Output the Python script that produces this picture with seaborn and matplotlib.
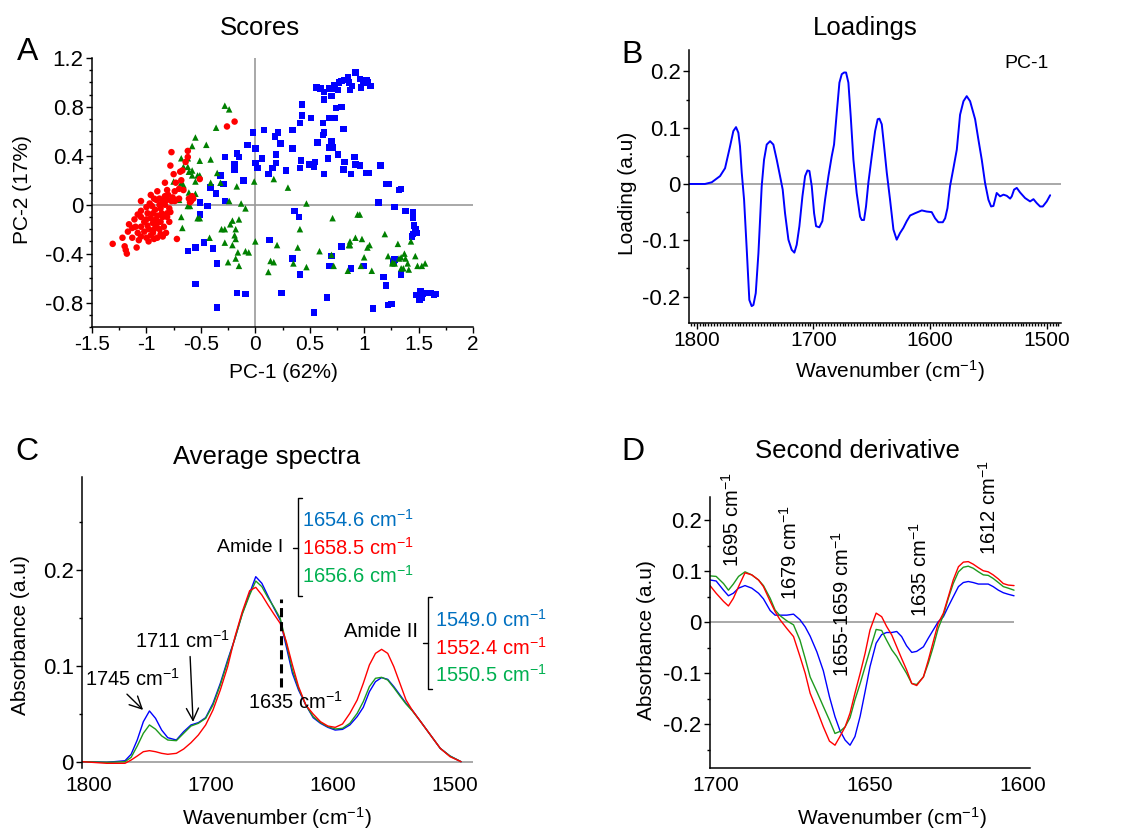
import numpy as np
import pandas as pd
import seaborn as sns
import matplotlib
matplotlib.use("Agg")
import matplotlib.pyplot as plt
from matplotlib.ticker import MultipleLocator, FuncFormatter

# ---------------- data ----------------
# A: PCA scores
blue_pc1 = [0.56, 0.63, 0.63, 0.68, 0.71, 0.70, 0.73, 0.76, 0.77, 0.79,
            0.82, 0.85, 0.86, 0.87, 0.89, 0.92, 0.96, 0.97, 0.99, 1.02,
            1.03, 1.06, 0.60, 0.74, 0.79, 0.73, 0.68, 0.62, 0.43, 0.43,
            0.51, 0.41, 0.34, 0.81, 0.91, 0.76, 0.63, 0.62, 0.57, 0.70,
            0.68, 0.71, 0.82, 0.81, 0.88, 0.92, 0.96, 1.02, 1.04, 1.15,
            1.20, 1.23, 1.32, 1.34, 1.13, 1.28, 1.38, 1.45, 1.45, 1.46,
            1.47, 1.48, 1.44, 1.45,
            -0.02, 0.08, 0.18, 0.21, 0.23, 0.34, -0.07, 0.00, 0.06, 0.19,
            0.19, 0.16, 0.12, 0.28, 0.42, 0.41, 0.50, 0.54, 0.55, 0.63,
            0.67, 0.00, 0.02, -0.28, -0.32, -0.17, -0.15, -0.19, -0.19, -0.11,
            -0.41, -0.29, -0.28, -0.36, -0.51, -0.44, -0.51, -0.47, -0.55, -0.62,
            -0.39, -0.35, 0.36, 0.40, 0.13, 0.79, 0.34, 0.70, 0.68, 1.00,
            0.88, 0.41, 1.18, 1.20, 1.34, 1.28, 1.27, 0.24, -0.17, -0.09,
            -0.35, -0.55, 0.54, 0.66, 1.08, 1.22, 1.25, 1.48, 1.52, 1.51,
            1.54, 1.57, 1.61, 1.64, 1.66, 1.53]
blue_pc2 = [0.96, 0.92, 0.86, 0.95, 0.95, 0.89, 0.98, 0.94, 1.00, 1.01,
            1.02, 1.04, 1.00, 0.94, 0.97, 1.08, 1.03, 0.96, 1.01, 1.02,
            1.00, 0.97, 0.95, 0.79, 0.80, 0.71, 0.71, 0.67, 0.82, 0.73,
            0.71, 0.67, 0.61, 0.62, 0.39, 0.41, 0.59, 0.57, 0.51, 0.52,
            0.47, 0.47, 0.35, 0.29, 0.25, 0.33, 0.32, 0.26, 0.26, 0.32,
            0.17, 0.17, 0.12, 0.13, 0.02, -0.02, -0.05, -0.06, -0.11, -0.17,
            -0.20, -0.23, -0.26, -0.24,
            0.59, 0.61, 0.56, 0.59, 0.50, 0.46, 0.49, 0.46, 0.38, 0.41,
            0.34, 0.30, 0.25, 0.28, 0.36, 0.30, 0.33, 0.31, 0.35, 0.25,
            0.38, 0.34, 0.30, 0.39, 0.24, 0.42, 0.39, 0.33, 0.29, 0.20,
            0.14, 0.17, 0.03, 0.09, 0.02, -0.01, -0.08, -0.31, -0.35, -0.38,
            -0.36, -0.48, -0.05, -0.10, -0.29, -0.34, -0.44, -0.42, -0.50, -0.50,
            -0.52, -0.57, -0.59, -0.66, -0.57, -0.45, -0.47, -0.72, -0.72, -0.73,
            -0.84, -0.65, -0.88, -0.76, -0.85, -0.82, -0.81, -0.74, -0.71, -0.78,
            -0.73, -0.72, -0.72, -0.74, -0.73, -0.76]
red_pc1 = [-0.19, -0.26, -0.51, -0.62, -0.77, -0.78, -0.69, -0.75, -0.83, -0.62,
           -0.64, -0.67, -0.73, -0.66, -0.61, -0.58, -0.59, -0.70, -0.81, -0.83,
           -0.85, -0.90, -0.91, -0.96, -0.97, -1.05, -0.88, -0.87, -0.92, -0.94,
           -0.99, -1.05, -1.08, -1.11, -1.13, -1.17, -1.16, -1.08, -1.05, -1.00,
           -0.94, -0.90, -0.87, -0.82, -0.84, -0.87, -0.91, -0.96, -1.02, -1.05,
           -0.98, -0.93, -0.88, -0.81, -0.79, -0.74, -0.73, -0.83, -0.79, -0.81,
           -0.72, -1.22, -1.31, -1.20, -1.18, -1.19, -1.09, -1.07, -0.98, -0.93,
           -0.85, -0.91, -0.99, -0.94, -0.77, -0.74, -0.81,
           -1.00, -0.95, -0.90, -0.85, -1.02, -0.96, -0.90, -0.86, -0.78, -0.80,
           -0.76, -0.70, -0.68, -1.10, -1.13, -0.93, -0.88, -1.00, -1.05, -0.60, -0.57]
red_pc2 = [0.68, 0.64, 0.21, 0.44, 0.43, 0.32, 0.27, 0.25, 0.18, 0.39,
           0.35, 0.28, 0.18, 0.12, 0.05, 0.07, 0.03, 0.05, 0.12, 0.07,
           0.03, 0.11, 0.04, 0.08, 0.01, 0.03, 0.00, -0.03, -0.04, -0.07,
           -0.07, -0.05, -0.08, -0.12, -0.19, -0.22, -0.16, -0.23, -0.26, -0.27,
           -0.23, -0.27, -0.24, -0.23, -0.18, -0.14, -0.12, -0.11, -0.14, -0.18,
           -0.20, -0.20, -0.20, -0.10, -0.14, 0.03, 0.04, 0.00, -0.03, -0.07,
           -0.28, -0.27, -0.32, -0.34, -0.40, -0.37, -0.35, -0.29, -0.30, -0.28,
           -0.26, -0.18, -0.17, -0.15, 0.03, 0.11, 0.04,
           -0.02, -0.01, -0.09, -0.10, -0.22, -0.25, -0.15, -0.07, -0.06, 0.08,
           0.06, 0.13, 0.20, -0.18, -0.27, 0.05, 0.05, -0.12, -0.10, 0.02, 0.05]
green_pc1 = [-0.28, -0.24, -0.36, -0.55, -0.58, -0.45, -0.41, -0.51, -0.62, -0.68,
             -0.62, -0.61, -0.58, -0.58, -0.53, -0.51, -0.66, -0.75, -0.68, -0.66,
             -0.55, -0.55, -0.61, -0.76, -0.70, -0.62, -0.60, -0.53, -0.51, -0.67,
             -0.68, -0.41, -0.35, -0.32, -0.24, -0.17, -0.13, -0.09, -0.01, 0.17,
             0.30, 0.47, 0.71, 0.94, 0.96, 0.41, 0.20, 0.00, -0.15, -0.18,
             -0.21, -0.23, -0.19, -0.18, -0.28, -0.31, -0.42, -0.28, -0.21, -0.16,
             -0.18, -0.09, -0.06, -0.25, -0.15, 0.14, 0.17, 0.12, 0.39, 0.59,
             0.70, 0.72, 0.35, 0.47, 0.86, 0.87, 0.92, 0.98, 1.03, 1.05,
             0.87, 1.00, 0.97, 1.07, 0.85, 1.19, 1.31, 1.22, 1.26, 1.28,
             1.32, 1.34, 1.37, 1.38, 1.40, 1.34, 1.41, 1.47, 1.49, 1.53,
             1.56, 1.43, 1.26, 1.36]
green_pc2 = [0.81, 0.78, 0.63, 0.55, 0.48, 0.49, 0.37, 0.36, 0.38, 0.38,
             0.31, 0.27, 0.28, 0.24, 0.24, 0.24, 0.31, 0.19, 0.18, 0.16,
             0.19, 0.09, 0.10, 0.05, 0.04, -0.01, -0.01, -0.11, -0.11, -0.19,
             -0.10, 0.18, 0.26, 0.18, 0.03, 0.15, 0.01, -0.03, 0.19, 0.21,
             0.14, 0.01, -0.11, -0.08, -0.08, -0.20, -0.33, -0.30, -0.12, -0.20,
             -0.13, -0.16, -0.25, -0.28, -0.20, -0.20, -0.27, -0.31, -0.33, -0.39,
             -0.44, -0.38, -0.39, -0.47, -0.50, -0.46, -0.47, -0.55, -0.35, -0.38,
             -0.41, -0.50, -0.48, -0.51, -0.33, -0.30, -0.27, -0.28, -0.35, -0.33,
             -0.33, -0.43, -0.50, -0.54, -0.54, -0.24, -0.32, -0.42, -0.48, -0.48,
             -0.44, -0.43, -0.40, -0.44, -0.48, -0.52, -0.53, -0.42, -0.50, -0.50,
             -0.48, -0.30, -0.47, -0.52]

# B: PC-1 loadings
load_wn = [1806.3, 1792.9, 1787.1, 1780.0, 1775.7, 1771.4, 1768.6, 1766.3, 1764.3, 1762.9,
           1761.4, 1759.4, 1757.1, 1754.9, 1752.9, 1751.4, 1749.4, 1747.1, 1744.3, 1742.3,
           1740.0, 1737.1, 1734.3, 1731.4, 1728.0, 1726.3, 1724.3, 1721.4, 1718.6, 1716.3,
           1714.3, 1712.0, 1709.4, 1707.1, 1705.1, 1703.4, 1701.4, 1699.4, 1697.7, 1694.9,
           1692.3, 1690.0, 1687.1, 1684.3, 1682.3, 1680.0, 1677.7, 1675.7, 1673.7, 1672.0,
           1670.0, 1668.0, 1665.7, 1662.9, 1660.0, 1658.6, 1656.6, 1654.9, 1652.9, 1650.0,
           1647.1, 1644.9, 1643.4, 1641.4, 1639.4, 1637.1, 1634.3, 1631.4, 1628.6, 1625.7,
           1622.9, 1620.0, 1617.1, 1612.9, 1607.1, 1602.9, 1598.6, 1595.7, 1592.9, 1589.1,
           1587.1, 1585.1, 1582.9, 1580.0, 1577.1, 1574.3, 1571.4, 1568.6, 1565.7, 1561.4,
           1558.6, 1555.7, 1552.9, 1550.0, 1547.7, 1545.7, 1542.9, 1540.0, 1537.1, 1534.3,
           1531.4, 1530.0, 1528.0, 1525.7, 1522.9, 1518.6, 1514.3, 1511.4, 1508.6, 1505.7,
           1503.4, 1500.0, 1497.1]
load_pc1 = [0, 0, 0.003, 0.014, 0.028, 0.067, 0.094, 0.101, 0.091, 0.067,
            0.020, -0.028, -0.117, -0.206, -0.217, -0.215, -0.194, -0.123, -0.004, 0.043,
            0.070, 0.076, 0.070, 0.043, 0.008, -0.010, -0.052, -0.099, -0.117, -0.122,
            -0.108, -0.075, -0.022, 0.014, 0.024, 0.023, -0.004, -0.052, -0.075, -0.077,
            -0.066, -0.028, 0.014, 0.049, 0.070, 0.126, 0.180, 0.195, 0.198, 0.198,
            0.180, 0.120, 0.043, -0.016, -0.058, -0.064, -0.064, -0.040, 0.002, 0.049,
            0.094, 0.115, 0.116, 0.106, 0.067, 0.020, -0.028, -0.081, -0.099, -0.087,
            -0.078, -0.066, -0.056, -0.052, -0.047, -0.049, -0.050, -0.061, -0.068, -0.068,
            -0.061, -0.043, -0.004, 0.028, 0.061, 0.123, 0.147, 0.156, 0.147, 0.115,
            0.079, 0.043, 0.002, -0.028, -0.040, -0.039, -0.016, -0.022, -0.019, -0.021,
            -0.026, -0.022, -0.010, -0.007, -0.015, -0.025, -0.031, -0.027, -0.034, -0.040,
            -0.040, -0.031, -0.020]

# C: average spectra
avg_wn = [1805, 1785, 1770, 1765, 1760, 1755, 1750, 1745, 1740, 1735,
          1728, 1722, 1716, 1710, 1704, 1698, 1692, 1686, 1680, 1674,
          1668, 1663, 1658, 1653, 1648, 1643, 1638, 1633, 1628, 1622,
          1616, 1610, 1604, 1598, 1592, 1586, 1580, 1575, 1570, 1565,
          1560, 1555, 1550, 1545, 1540, 1535, 1528, 1520, 1512, 1504, 1495]
avg_blue = [0, -0.0007, 0.001, 0.0077, 0.0226, 0.0417, 0.0529, 0.0452, 0.033, 0.025,
            0.0226, 0.0313, 0.0383, 0.0407, 0.0459, 0.0609, 0.0817, 0.1061, 0.1287, 0.1548,
            0.1757, 0.193, 0.1861, 0.1729, 0.16, 0.1478, 0.12, 0.0922, 0.0748, 0.0591,
            0.0459, 0.04, 0.0358, 0.033, 0.0337, 0.0383, 0.047, 0.0567, 0.073, 0.0835,
            0.0877, 0.0859, 0.0783, 0.0696, 0.0609, 0.0539, 0.0417, 0.0278, 0.0139, 0.0059, 0]
avg_red = [0, -0.0017, -0.0017, 0.0017, 0.0059, 0.0104, 0.0115, 0.0104, 0.0087, 0.0077,
           0.0087, 0.0132, 0.0198, 0.0278, 0.0383, 0.0539, 0.0748, 0.0991, 0.1304, 0.1565,
           0.1784, 0.1819, 0.1739, 0.1635, 0.1537, 0.1443, 0.1252, 0.1009, 0.0783, 0.0591,
           0.0497, 0.0417, 0.0372, 0.0358, 0.0393, 0.0504, 0.0643, 0.0817, 0.1009, 0.113,
           0.1172, 0.113, 0.0991, 0.0817, 0.0643, 0.0539, 0.0417, 0.0278, 0.0139, 0.0052, 0]
avg_green = [0, -0.0007, 0, 0.0045, 0.0163, 0.0296, 0.0383, 0.0339, 0.0269, 0.0226,
             0.0219, 0.0296, 0.0372, 0.04, 0.0452, 0.0591, 0.08, 0.1043, 0.1287, 0.1541,
             0.1739, 0.1885, 0.1826, 0.1711, 0.1610, 0.1496, 0.1235, 0.0957, 0.0765, 0.0591,
             0.047, 0.0407, 0.0365, 0.0341, 0.0348, 0.04, 0.0504, 0.0626, 0.0783, 0.087,
             0.088, 0.0852, 0.0772, 0.0685, 0.0602, 0.0532, 0.0417, 0.0278, 0.0139, 0.0059, 0]
amide1_labels = ["1654.6", "1658.5", "1656.6"]
amide2_labels = ["1549.0", "1552.4", "1550.5"]

# D: second derivative
d2_wn = [1702.0, 1700.0, 1697.6, 1696.0, 1694.4, 1692.7, 1690.6, 1688.4, 1686.2, 1684.6,
         1682.4, 1680.8, 1679.2, 1677.0, 1674.8, 1672.7, 1671.0, 1669.4, 1667.2, 1665.1,
         1663.1, 1661.3, 1659.7, 1658.0, 1656.4, 1654.8, 1653.1, 1651.5, 1649.9, 1647.9,
         1646.1, 1644.5, 1642.8, 1641.2, 1639.6, 1638.0, 1636.3, 1634.7, 1632.5, 1630.9,
         1629.3, 1627.7, 1626.0, 1624.4, 1622.8, 1621.1, 1619.5, 1617.9, 1616.3, 1614.6,
         1613.0, 1611.4, 1609.8, 1608.1, 1606.5, 1604.9, 1603.0]
d2_blue = [0.083, 0.081, 0.063, 0.052, 0.057, 0.067, 0.072, 0.067, 0.057, 0.046,
           0.023, 0.014, 0.014, 0.014, 0.016, 0.005, -0.009, -0.027, -0.058, -0.095,
           -0.146, -0.185, -0.212, -0.231, -0.241, -0.224, -0.184, -0.136, -0.087, -0.041,
           -0.024, -0.020, -0.020, -0.018, -0.028, -0.046, -0.059, -0.057, -0.048, -0.031,
           -0.015, 0.001, 0.011, 0.031, 0.050, 0.070, 0.078, 0.080, 0.078, 0.075,
           0.075, 0.075, 0.070, 0.063, 0.058, 0.055, 0.052]
d2_red = [0.072, 0.057, 0.041, 0.032, 0.047, 0.070, 0.097, 0.093, 0.083, 0.070,
          0.041, 0.021, 0.005, -0.012, -0.028, -0.067, -0.100, -0.139, -0.172, -0.205,
          -0.233, -0.241, -0.224, -0.205, -0.178, -0.139, -0.100, -0.061, -0.015, 0.018,
          0.011, -0.008, -0.025, -0.048, -0.071, -0.093, -0.120, -0.124, -0.107, -0.074,
          -0.038, -0.002, 0.018, 0.050, 0.083, 0.109, 0.118, 0.119, 0.114, 0.107,
          0.101, 0.099, 0.093, 0.085, 0.076, 0.073, 0.072]
d2_green = [0.091, 0.090, 0.076, 0.063, 0.075, 0.090, 0.099, 0.093, 0.083, 0.072,
            0.047, 0.024, 0.013, 0.003, -0.005, -0.035, -0.071, -0.107, -0.136, -0.165,
            -0.192, -0.218, -0.214, -0.205, -0.187, -0.152, -0.120, -0.087, -0.054, -0.014,
            -0.016, -0.035, -0.054, -0.067, -0.084, -0.100, -0.120, -0.122, -0.107, -0.080,
            -0.048, -0.012, 0.014, 0.047, 0.076, 0.099, 0.108, 0.110, 0.106, 0.099,
            0.093, 0.092, 0.086, 0.078, 0.070, 0.067, 0.063]
d2_bands = ["1695", "1679", "1655-1659", "1635", "1612"]

# ---------------- style ----------------
sns.set_theme(style="white")
plt.rcParams['font.family'] = ['Liberation Sans', 'DejaVu Sans']
plt.rcParams['mathtext.fontset'] = 'custom'
plt.rcParams['mathtext.rm'] = 'Liberation Sans'
plt.rcParams['mathtext.default'] = 'regular'
plt.rcParams['axes.unicode_minus'] = False
for key in ['text.color', 'axes.labelcolor', 'xtick.color', 'ytick.color']:
    plt.rcParams[key] = 'black'

W, H = 1131, 832
fig = plt.figure(figsize=(W / 100, H / 100), dpi=100)
CM = " cm$^{-1}$"
GREY = '#999999'
scat_pal = {'blue': '#0000FF', 'red': '#FF0000', 'green': '#008000'}
line_pal = {'blue': '#0000FF', 'red': '#FF0000', 'green': '#1E9A1E'}
text_cols = ['#0070C0', '#FF0000', '#00B050']


def px_axes(l, r, t, b):
    return fig.add_axes([l / W, 1 - b / H, (r - l) / W, (b - t) / H])


def fpos(x, y):
    return x / W, 1 - y / H


def style(ax):
    sns.despine(ax=ax)
    for s in ['left', 'bottom']:
        ax.spines[s].set_color('black')
        ax.spines[s].set_linewidth(1.1)
    ax.tick_params(which='both', direction='out', color='black', left=True, bottom=True, width=1)
    ax.tick_params(which='major', length=4, pad=2)
    ax.tick_params(axis='x', which='major', labelsize=15)
    ax.tick_params(axis='y', which='major', labelsize=16)
    ax.tick_params(which='minor', length=2.5)
    ax.xaxis.set_major_formatter(FuncFormatter(lambda v, p: '%g' % round(v, 3)))
    ax.yaxis.set_major_formatter(FuncFormatter(lambda v, p: '%g' % round(v, 3)))


def label_at(ax, which, text, x, y, size=15):
    if which == 'x':
        ax.set_xlabel(text, fontsize=size)
        axis = ax.xaxis
    else:
        ax.set_ylabel(text, fontsize=size)
        axis = ax.yaxis
    axis.set_label_coords(*fpos(x, y), transform=fig.transFigure)
    axis.label.set_va('center')
    axis.label.set_ha('center')


# ---------------- A: scores ----------------
axA = px_axes(92, 473, 58, 327)
scores = pd.DataFrame({
    'pc1': blue_pc1 + green_pc1 + red_pc1,
    'pc2': blue_pc2 + green_pc2 + red_pc2,
    'group': ['blue'] * len(blue_pc1) + ['green'] * len(green_pc1) + ['red'] * len(red_pc1),
})
axA.axvline(0, color=GREY, lw=1.2, zorder=1)
axA.axhline(0, color=GREY, lw=1.2, zorder=1)
sns.scatterplot(data=scores, x='pc1', y='pc2', hue='group', style='group',
                markers={'blue': 's', 'red': 'o', 'green': '^'}, palette=scat_pal,
                s=22, linewidth=0, legend=False, ax=axA, zorder=3)
axA.set_xlim(-1.5, 2)
axA.set_ylim(-1.0, 1.2)
axA.xaxis.set_major_locator(MultipleLocator(0.5))
axA.xaxis.set_minor_locator(MultipleLocator(0.25))
axA.yaxis.set_major_locator(MultipleLocator(0.4))
axA.yaxis.set_minor_locator(MultipleLocator(0.1))
style(axA)
label_at(axA, 'x', 'PC-1 (62%)', 283, 372)
label_at(axA, 'y', 'PC-2 (17%)', 22, 190)

# ---------------- B: loadings ----------------
axB = px_axes(689, 1061, 50, 323)
axB.axhline(0, color=GREY, lw=1.2, zorder=1)
sns.lineplot(x=load_wn, y=load_pc1, color='#0000FF', lw=1.4, estimator=None, ax=axB)
axB.set_xlim(1806.6, 1487.8)
axB.set_ylim(-0.247, 0.238)
axB.xaxis.set_major_locator(MultipleLocator(100))
axB.xaxis.set_minor_locator(MultipleLocator(2.5))
axB.yaxis.set_major_locator(MultipleLocator(0.1))
axB.yaxis.set_minor_locator(MultipleLocator(0.05))
style(axB)
axB.tick_params(axis='x', which='minor', length=2.5)
label_at(axB, 'x', 'Wavenumber (cm$^{-1}$)', 890, 371)
label_at(axB, 'y', 'Loading (a.u)', 628, 193)
fig.text(*fpos(1027, 63), 'PC-1', fontsize=14, ha='center', va='center')

# ---------------- C: average spectra ----------------
axC = px_axes(82, 473, 477, 768)
n_c = len(avg_wn)
spectra = pd.DataFrame({
    'wn': avg_wn * 3,
    'absorbance': avg_blue + avg_green + avg_red,
    'group': ['blue'] * n_c + ['green'] * n_c + ['red'] * n_c,
})
axC.axhline(0, color=GREY, lw=1.2, zorder=1)
sns.lineplot(data=spectra, x='wn', y='absorbance', hue='group', palette=line_pal,
             estimator=None, lw=1.0, legend=False, ax=axC)
axC.set_xlim(1805.2, 1485.2)
axC.set_ylim(-0.0066, 0.297)
axC.xaxis.set_major_locator(MultipleLocator(100))
axC.yaxis.set_major_locator(MultipleLocator(0.1))
axC.yaxis.set_minor_locator(MultipleLocator(0.05))
style(axC)
axC.spines['bottom'].set_visible(False)
axC.tick_params(axis='x', which='both', length=0, pad=6)
label_at(axC, 'x', 'Wavenumber (cm$^{-1}$)', 277, 818)
label_at(axC, 'y', 'Absorbance (a.u)', 21, 635)

arrow = dict(arrowstyle='->, head_length=0.6, head_width=0.3', color='black', lw=1.0,
             shrinkA=1, shrinkB=0)
axC.annotate('1745' + CM, xy=(1755.2, 0.054), xytext=(1764.2, 0.0863), fontsize=14.5,
             ha='center', va='center', arrowprops=dict(arrow, relpos=(0.4, 0.0)))
axC.annotate('1711' + CM, xy=(1714.3, 0.0415), xytext=(1723.1, 0.126), fontsize=14.5,
             ha='center', va='center', arrowprops=dict(arrow, relpos=(0.58, 0.0)))
axC.plot([1642.4, 1642.4], [0.078, 0.170], color='black', lw=2.2, ls=(0, (3, 1.6)))
axC.text(1630.7, 0.0624, '1635' + CM, fontsize=14.5, ha='center', va='center')

# Amide I bracket
axC.plot([1625.4, 1628.6, 1628.6, 1625.4], [0.275, 0.275, 0.173, 0.173], color='black', lw=1.0)
axC.plot([1632.4, 1628.6], [0.2234, 0.2234], color='black', lw=1.0)
axC.text(1640.4, 0.2234, 'Amide I', fontsize=14, ha='right', va='center')
for lab, col, yv in zip(amide1_labels, text_cols, [0.252, 0.2234, 0.194]):
    axC.text(1625.4, yv, lab + CM, color=col, fontsize=14.5, ha='left', va='center')

# Amide II bracket
axC.plot([1519.0, 1522.3, 1522.3, 1519.0], [0.172, 0.172, 0.0756, 0.0756], color='black', lw=1.0)
axC.plot([1525.9, 1522.3], [0.124, 0.124], color='black', lw=1.0)
axC.text(1530.0, 0.1357, 'Amide II', fontsize=14.5, ha='right', va='center')
for lab, col, yv in zip(amide2_labels, text_cols, [0.148, 0.119, 0.0905]):
    axC.text(1516.3, yv, lab + CM, color=col, fontsize=14.5, ha='left', va='center')

# ---------------- D: second derivative ----------------
axD = px_axes(710, 1030, 497, 768)
n_d = len(d2_wn)
deriv = pd.DataFrame({
    'wn': d2_wn * 3,
    'd2': d2_blue + d2_green + d2_red,
    'group': ['blue'] * n_d + ['green'] * n_d + ['red'] * n_d,
})
axD.hlines(0, min(d2_wn), max(d2_wn), color=GREY, lw=1.2, zorder=1)
sns.lineplot(data=deriv, x='wn', y='d2', hue='group', palette=line_pal,
             estimator=None, lw=1.0, legend=False, ax=axD)
axD.set_xlim(1702.0, 1597.8)
axD.set_ylim(-0.2857, 0.2457)
axD.xaxis.set_major_locator(MultipleLocator(50))
axD.yaxis.set_major_locator(MultipleLocator(0.1))
axD.yaxis.set_minor_locator(MultipleLocator(0.05))
style(axD)
axD.tick_params(axis='x', which='both', length=0, pad=6)
label_at(axD, 'x', 'Wavenumber (cm$^{-1}$)', 892, 818)
label_at(axD, 'y', 'Absorbance (a.u)', 647, 640)
for lab, xv, yv in zip(d2_bands, [1694.9, 1675.9, 1659.1, 1633.6, 1611.1],
                       [0.109, 0.044, -0.107, 0.011, 0.132]):
    axD.text(xv, yv, lab + CM, rotation=90, fontsize=14.5, ha='center', va='bottom')

# ---------------- titles and panel letters ----------------
for txt, x, y in [('Scores', 260, 28), ('Loadings', 865, 28),
                  ('Average spectra', 267, 457), ('Second derivative', 857, 451)]:
    fig.text(*fpos(x, y), txt, fontsize=18.5, ha='center', va='center')
for txt, x, y in [('A', 28, 52), ('B', 632, 55), ('C', 27, 452), ('D', 633, 452)]:
    fig.text(*fpos(x, y), txt, fontsize=23, ha='center', va='center')

fig.savefig('out.png', dpi=100)
